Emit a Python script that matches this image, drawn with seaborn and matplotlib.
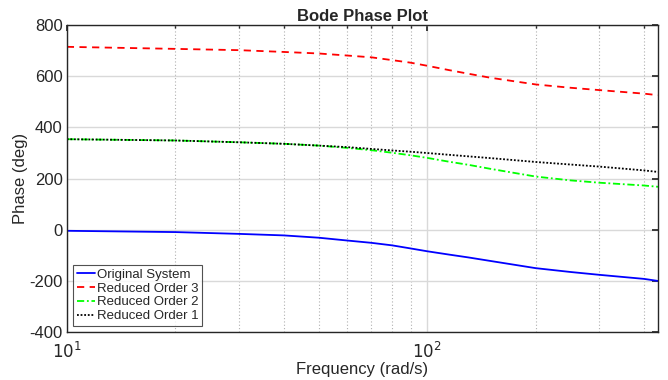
import numpy as np
import pandas as pd
import seaborn as sns
import matplotlib
matplotlib.use("Agg")
import matplotlib.pyplot as plt
from matplotlib.ticker import LogLocator, FixedLocator, NullFormatter

freq = [10, 20, 30, 40, 50, 60, 70, 80, 90, 100, 115, 130, 150, 200, 250, 300, 400, 437]
original = [-4, -9, -16, -22, -31, -42, -51, -61, -73, -84, -97, -108, -122, -150, -165, -176, -192, -200]
order3 = [715, 707, 702, 695, 689, 681, 674, 663, 653, 641, 624, 610, 594, 568, 555, 546, 532, 526]
order2 = [354, 349, 342, 336, 329, 320, 311, 301, 291, 281, 266, 254, 238, 208, 193, 184, 173, 168]
order1 = [354, 349, 342, 336, 329, 323, 316, 310, 305, 300, 293, 287, 280, 265, 255, 247, 232, 226]

series = ["Original System", "Reduced Order 3", "Reduced Order 2", "Reduced Order 1"]
values = [original, order3, order2, order1]
colors = ["#0000ff", "#ff0000", "#00ff00", "#000000"]
styles = ["-", (0, (4, 3)), (0, (4, 1.5, 1, 1.5)), (0, (1, 1))]

sns.set_theme(style="white")
plt.rcParams["font.family"] = ["Liberation Sans", "DejaVu Sans"]
plt.rcParams["axes.unicode_minus"] = False

fig = plt.figure(figsize=(6.68, 3.80), dpi=100)
ax = fig.add_axes([0.100, 0.126, 0.885, 0.808])

for name, vals, c, ls in zip(series, values, colors, styles):
    df = pd.DataFrame({"f": freq, "p": vals})
    sns.lineplot(data=df, x="f", y="p", ax=ax, color=c, linestyle=ls, lw=1.3, label=name)

ax.set_xscale("log")
ax.set_xlim(10, 437)
ax.set_ylim(-400, 800)
ax.set_yticks([-400, -200, 0, 200, 400, 600, 800])
ax.xaxis.set_major_locator(FixedLocator([10, 100]))
ax.set_xticklabels([r"$10^1$", r"$10^2$"])
ax.xaxis.set_minor_locator(LogLocator(base=10, subs=np.arange(2, 10)))
ax.xaxis.set_minor_formatter(NullFormatter())

ax.grid(True, which="major", axis="both", color="#d9d9d9", lw=1.0, ls="-")
ax.grid(True, which="minor", axis="x", color="#b0b0b0", lw=0.8, ls=(0, (1, 2)))
ax.set_axisbelow(True)

for s in ax.spines.values():
    s.set_color("#262626")
    s.set_linewidth(1.0)
ax.tick_params(axis="both", which="both", direction="in", top=True, right=True,
               colors="#262626", labelsize=12, length=4)
ax.tick_params(axis="x", which="minor", length=2.5)
ax.tick_params(axis="x", pad=6)
ax.tick_params(axis="y", pad=3)

ax.set_xlabel("Frequency (rad/s)", fontsize=12, color="#262626", labelpad=1)
ax.set_ylabel("Phase (deg)", fontsize=12, color="#262626", labelpad=1)
ax.set_title("Bode Phase Plot", fontsize=12, fontweight="bold", pad=3)

leg = ax.legend(loc="lower left", fontsize=9.5, frameon=True, fancybox=False,
                edgecolor="#262626", handlelength=1.4, handletextpad=0.15,
                borderpad=0.25, labelspacing=0.12, borderaxespad=0.5)
leg.get_frame().set_linewidth(0.8)

fig.savefig("out.png", dpi=100)
